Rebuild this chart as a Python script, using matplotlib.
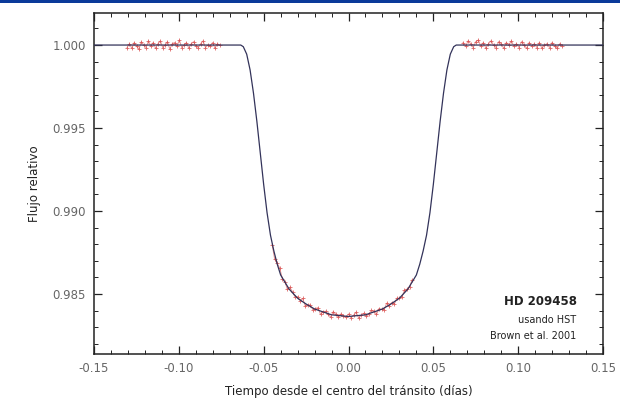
import matplotlib
matplotlib.use("Agg")
import matplotlib.pyplot as plt
from matplotlib.patches import Rectangle
from matplotlib.ticker import MultipleLocator, FormatStrFormatter

# Model light curve
model_t = [-0.15, -0.0635, -0.062, -0.060, -0.058, -0.056, -0.054, -0.052, -0.050,
           -0.048, -0.046, -0.044, -0.042, -0.040, -0.035, -0.030, -0.025, -0.020, -0.010,
           0.0, 0.010, 0.020, 0.025, 0.030, 0.035, 0.040, 0.042, 0.044, 0.046, 0.048,
           0.050, 0.052, 0.054, 0.056, 0.058, 0.060, 0.062, 0.0635, 0.15]
model_f = [1.0, 1.0, 0.9999, 0.99945, 0.9985, 0.9971, 0.9954, 0.9935, 0.9916,
           0.9899, 0.98855, 0.9876, 0.9868, 0.98615, 0.9853, 0.98475, 0.9844, 0.9841, 0.98375,
           0.98365, 0.98375, 0.9841, 0.9844, 0.98475, 0.9853, 0.98615, 0.9868, 0.9876, 0.98855,
           0.9899, 0.9916, 0.9935, 0.9954, 0.9971, 0.9985, 0.99945, 0.9999, 1.0, 1.0]

# Observations: before transit
pre_t = [-0.1305, -0.1291, -0.1277, -0.1263, -0.1249, -0.1235, -0.1221, -0.1207,
         -0.1193, -0.1179, -0.1165, -0.1151, -0.1137, -0.1123, -0.1109, -0.1095,
         -0.1081, -0.1067, -0.1053, -0.1039, -0.1025, -0.1011, -0.0997, -0.0983,
         -0.0969, -0.0955, -0.0941, -0.0927, -0.0913, -0.0899, -0.0885, -0.0871,
         -0.0857, -0.0843, -0.0829, -0.0815, -0.0801, -0.0787, -0.0773, -0.0759]
pre_f = [0.99985, 1.00008, 0.99980, 1.00015, 0.99993, 0.99975, 1.00020, 1.00000,
         0.99985, 1.00025, 0.99993, 1.00015, 0.99980, 1.00008, 1.00025, 0.99985,
         1.00000, 1.00020, 0.99975, 1.00008, 1.00015, 0.99993, 1.00030, 0.99985,
         1.00000, 1.00015, 0.99980, 1.00008, 1.00020, 0.99993, 0.99985, 1.00008,
         1.00025, 0.99985, 1.00000, 0.99993, 1.00015, 0.99980, 1.00008, 1.00000]

# In transit
mid_t = [-0.0450, -0.0435, -0.0420, -0.0405, -0.0390, -0.0375, -0.0360, -0.0345,
         -0.0330, -0.0315, -0.0300, -0.0285, -0.0270, -0.0255, -0.0240, -0.0225,
         -0.0210, -0.0195, -0.0180, -0.0165, -0.0150, -0.0135, -0.0120, -0.0105,
         -0.0090, -0.0075, -0.0060, -0.0045, -0.0030, -0.0015, 0.0000, 0.0015,
         0.0030, 0.0045, 0.0060, 0.0075, 0.0090, 0.0105, 0.0120, 0.0135, 0.0150,
         0.0165, 0.0180, 0.0195, 0.0210, 0.0225, 0.0240, 0.0255, 0.0270, 0.0285,
         0.0300, 0.0315, 0.0330, 0.0345, 0.0360, 0.0375]
mid_f = [0.98798, 0.98710, 0.98685, 0.98655, 0.98592, 0.98575, 0.98528, 0.98540,
         0.98513, 0.98482, 0.98485, 0.98460, 0.98474, 0.98429, 0.98434, 0.98435,
         0.98406, 0.98413, 0.98418, 0.98378, 0.98393, 0.98397, 0.98377, 0.98362,
         0.98394, 0.98378, 0.98361, 0.98380, 0.98368, 0.98362, 0.98380, 0.98357,
         0.98373, 0.98390, 0.98356, 0.98373, 0.98384, 0.98367, 0.98377, 0.98402,
         0.98398, 0.98378, 0.98413, 0.98408, 0.98406, 0.98445, 0.98429, 0.98449,
         0.98439, 0.98475, 0.98475, 0.98482, 0.98523, 0.98530, 0.98543, 0.98585]

# After transit
post_t = [0.0675, 0.0690, 0.0705, 0.0720, 0.0735, 0.0750, 0.0765, 0.0780, 0.0795,
          0.0810, 0.0825, 0.0840, 0.0855, 0.0870, 0.0885, 0.0900, 0.0915, 0.0930,
          0.0945, 0.0960, 0.0975, 0.0990, 0.1005, 0.1020, 0.1035, 0.1050, 0.1065,
          0.1080, 0.1095, 0.1110, 0.1125, 0.1140, 0.1155, 0.1170, 0.1185, 0.1200,
          0.1215, 0.1230, 0.1245, 0.1260]
post_f = [1.00015, 0.99993, 1.00025, 1.00008, 0.99985, 1.00020, 1.00030, 0.99993,
          1.00015, 0.99980, 1.00008, 1.00025, 1.00000, 0.99985, 1.00020, 1.00008,
          0.99980, 1.00015, 1.00000, 1.00025, 0.99993, 1.00008, 0.99985, 1.00020,
          1.00000, 0.99980, 1.00015, 0.99993, 1.00008, 0.99985, 1.00015, 0.99980,
          1.00000, 1.00008, 0.99985, 1.00015, 0.99993, 0.99980, 1.00008, 0.99993]

fig = plt.figure(figsize=(6.2, 4.17), dpi=100)
fig.patches.append(Rectangle((0, 1 - 3 / 417), 1, 3 / 417, transform=fig.transFigure,
                             facecolor="#0a3a9a", edgecolor="none"))
ax = fig.add_axes([94 / 620, 1 - 354 / 417, (603 - 94) / 620, (354 - 13) / 417])

red = "#d84a4a"
for tt, ff in [(pre_t, pre_f), (mid_t, mid_f), (post_t, post_f)]:
    ax.plot(tt, ff, color=red, lw=0.7, alpha=0.6, zorder=2)
    ax.plot(tt, ff, ls="none", marker="+", ms=3, mew=0.6, color=red, alpha=0.85, zorder=2)
ax.plot(model_t, model_f, color="#33335a", lw=0.9, zorder=3)

ax.set_xlim(-0.15, 0.15)
ax.set_ylim(0.98139, 1.00193)
ax.xaxis.set_major_locator(MultipleLocator(0.05))
ax.xaxis.set_minor_locator(MultipleLocator(0.01))
ax.yaxis.set_major_locator(MultipleLocator(0.005))
ax.yaxis.set_minor_locator(MultipleLocator(0.001))
ax.xaxis.set_major_formatter(FormatStrFormatter("%.2f"))
ax.yaxis.set_major_formatter(FormatStrFormatter("%.3f"))
ax.tick_params(which="both", direction="in", top=True, right=True, color="#222222")
ax.tick_params(which="major", length=6, width=0.9, labelsize=8.5, labelcolor="#666666", pad=6)
ax.tick_params(which="minor", length=3, width=0.7)
for s in ax.spines.values():
    s.set_linewidth(1.1)
    s.set_color("#222222")

ax.set_xlabel("Tiempo desde el centro del tránsito (días)", fontsize=8.5, color="#222222", labelpad=7)
ax.set_ylabel("Flujo relativo", fontsize=8.5, color="#222222", labelpad=8)

ax.text(0.948, 0.155, "HD 209458", transform=ax.transAxes, ha="right", va="center",
        fontsize=8.5, fontweight="bold", color="#222222")
ax.text(0.948, 0.1, "usando HST", transform=ax.transAxes, ha="right", va="center",
        fontsize=7, color="#222222")
ax.text(0.948, 0.052, "Brown et al. 2001", transform=ax.transAxes, ha="right", va="center",
        fontsize=7, color="#222222")

fig.savefig("out.png", dpi=100)
